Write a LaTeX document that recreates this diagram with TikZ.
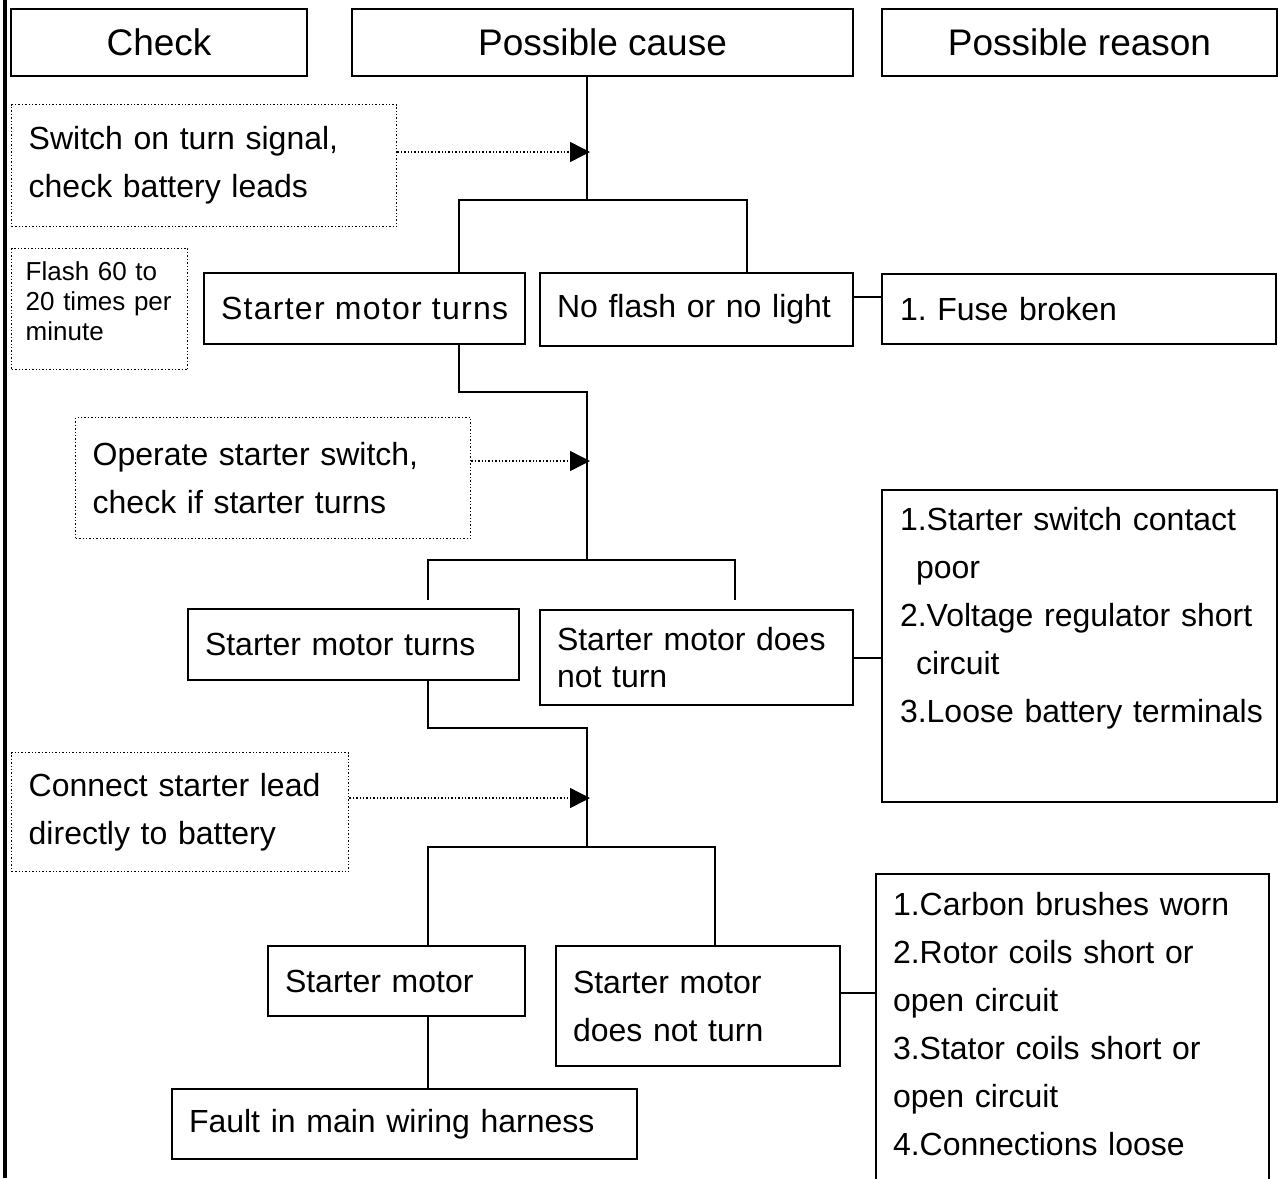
\documentclass[tikz,border=0pt]{standalone}
\usepackage{fontspec}
\setmainfont{Liberation Sans}
\usetikzlibrary{arrows.meta}
\newcommand\headfont{\fontsize{18.5}{22}\selectfont}
\newcommand\bodyfont{\fontsize{16}{24}\selectfont}
\newcommand\smallfont{\fontsize{13}{15}\selectfont}
\frenchspacing
\hyphenpenalty=10000

\begin{document}
\begin{tikzpicture}[x=0.5pt,y=-0.5pt,
  head/.style={draw,line width=1pt,anchor=north west,font=\headfont,minimum height=33.5pt,inner sep=0pt},
  box/.style={draw,line width=1pt,anchor=north west,font=\bodyfont,align=left,inner xsep=8.5pt},
  hint/.style={draw,densely dotted,line width=0.7pt,anchor=north west,font=\bodyfont,align=left,inner xsep=8.5pt},
  wire/.style={line width=1pt},
  hintline/.style={densely dotted,line width=0.7pt,shorten >=-1.5pt,-{Triangle[length=10pt,width=10pt]}}]
\useasboundingbox (0,0) rectangle (1278,1178);
\clip (0,0) rectangle (1278,1178);

% left margin bar
\draw [line width=2.25pt] (5,0) -- (5,1178);

% headers
\node [head, minimum width=148pt] (hcheck) at (10,8) {Check};
\node [head, minimum width=250.5pt] (hcause) at (351,8) {Possible cause};
\node [head, minimum width=197.5pt] (hreason) at (881,8) {Possible reason};

% first check
\node [hint, text width=175.5pt, minimum height=61pt] (n1) at (11,104) {Switch on turn signal,\\check battery leads};
\node [hint, font=\smallfont, inner xsep=7pt, text width=74pt, minimum height=60.5pt] (n2) at (11,248) {Flash 60 to\\20 times per\\minute\\[-7pt]\mbox{}};
\node [box, align=center, minimum width=157pt, minimum height=35.5pt] (b1) at (203,272) {\addfontfeatures{LetterSpace=4}Starter motor turns};
\node [box, text width=139.5pt, minimum height=36.5pt] (b2) at (539,272) {No flash or no light};
\node [box, inner xsep=9pt, text width=179pt, minimum height=35pt] (r1) at (881,273) {1. Fuse broken};

% second check
\node [hint, text width=180.5pt, minimum height=60.5pt] (n3) at (75,417) {Operate starter switch,\\check if starter turns};
\node [box, text width=148.5pt, minimum height=35.5pt] (b3) at (187,608) {Starter motor turns};
\node [box, font=\fontsize{16}{18.5}\selectfont, text width=139.5pt, minimum height=47.5pt] (b4) at (539,609) {Starter motor does\\not turn};
\node [box, inner xsep=7pt, text width=183.5pt, minimum height=156pt] (r2) at (881,489) {\hspace*{2pt}1.Starter switch contact\\\hspace*{10pt}poor\\\hspace*{2pt}2.Voltage regulator short\\\hspace*{10pt}circuit\\\hspace*{2pt}3.Loose battery terminals\\[6.7pt]\mbox{}};

% third check
\node [hint, text width=151.5pt, minimum height=59.5pt] (n4) at (11,752) {Connect starter lead\\directly to battery};
\node [box, text width=111.5pt, minimum height=35pt] (b5) at (267,945) {Starter motor};
\node [box, text width=125pt, minimum height=60pt] (b6) at (555,945) {Starter motor\\does not turn};
\node [box, text width=179.5pt, inner ysep=9pt] (r3) at (875,873) {1.Carbon brushes worn\\2.Rotor coils short or\\open circuit\\3.Stator coils short or\\open circuit\\4.Connections loose\\\mbox{}\\\mbox{}};
\node [box, text width=215.5pt, minimum height=35pt] (b7) at (171,1088) {Fault in main wiring harness};

% junctions on the trunk
\coordinate (a1) at (587,152);
\coordinate (j1) at (587,200);
\coordinate (s1l) at (459,200);
\coordinate (s1r) at (747,200);
\coordinate (k1) at (459,392);
\coordinate (j2) at (587,392);
\coordinate (a2) at (587,461);
\coordinate (j3) at (587,560);
\coordinate (s2l) at (428,560);
\coordinate (s2r) at (735,560);
\coordinate (d2l) at (428,600);
\coordinate (d2r) at (735,600);
\coordinate (k2) at (428,728);
\coordinate (j4) at (587,728);
\coordinate (a3) at (587,798);
\coordinate (j5) at (587,847);
\coordinate (s3l) at (428,847);
\coordinate (s3r) at (715,847);
\coordinate (f1) at (866,297);
\coordinate (f3) at (857,993);

\draw [wire] (hcause.south -| a1) -- (j1);
\draw [wire] (s1l |- b1.north) -- (s1l) -- (s1r) -- (s1r |- b2.north);
\draw [wire] (s1l |- b1.south) -- (k1) -- (j2) -- (j3);
\draw [wire] (d2l) -- (s2l) -- (s2r) -- (d2r);
\draw [wire] (s2l |- b3.south) -- (k2) -- (j4) -- (j5);
\draw [wire] (s3l |- b5.north) -- (s3l) -- (s3r) -- (s3r |- b6.north);
\draw [wire] (s3l |- b5.south) -- (s3l |- b7.north);

\draw [wire] (b2.east |- f1) -- (r1.west |- f1);
\draw [wire] (b4.east) -- (b4.east -| r2.west);
\draw [wire] (b6.east |- f3) -- (r3.west |- f3);

\draw [hintline] (n1.east |- a1) -- (a1);
\draw [hintline] (n3.east |- a2) -- (a2);
\draw [hintline] (n4.east |- a3) -- (a3);
\end{tikzpicture}
\end{document}
